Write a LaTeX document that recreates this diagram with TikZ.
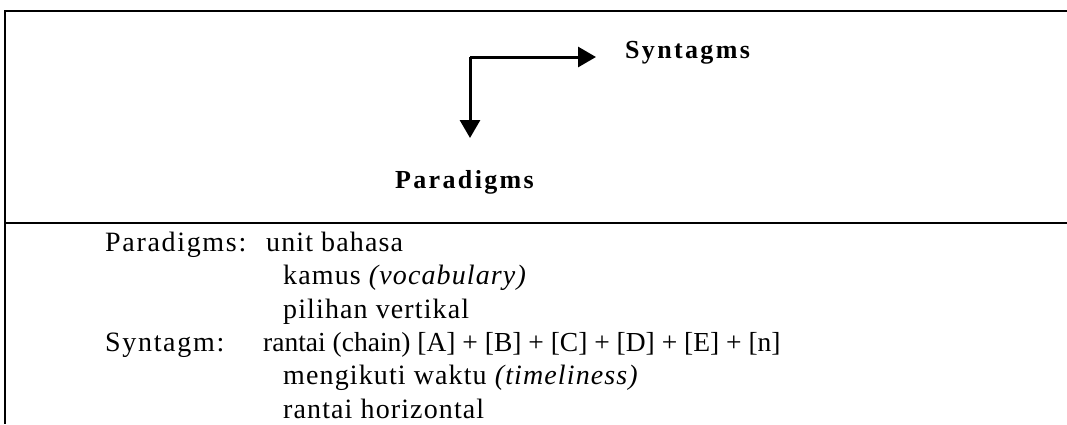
\documentclass[tikz,border=0pt]{standalone}
\usepackage{fontspec}
\setmainfont{Liberation Serif}
\newfontfamily\spchead[LetterSpace=9]{Liberation Serif}
\newfontfamily\spclab[LetterSpace=6]{Liberation Serif}
\newfontfamily\spcbody[LetterSpace=4]{Liberation Serif}
\newfontfamily\spcchain[LetterSpace=0]{Liberation Serif}
\usetikzlibrary{arrows.meta}
\tikzset{
  frame/.style={line width=2.5pt},
  arr/.style={line width=3pt,-{Triangle[length=18pt,width=20pt]}},
  head/.style={font=\spchead\fontsize{26}{30}\selectfont\bfseries,inner sep=0pt,anchor=base west},
  lab/.style={font=\spclab\fontsize{28}{32}\selectfont,inner sep=0pt,anchor=base west},
  txt/.style={font=\spcbody\fontsize{28}{32}\selectfont,inner sep=0pt,anchor=base west},
  chain/.style={font=\spcchain\fontsize{27.5}{32}\selectfont,inner sep=0pt,anchor=base west}
}
\begin{document}
\begin{tikzpicture}[x=1pt,y=-1pt]
\useasboundingbox (0,0) rectangle (1067,424);
\fill[white] (0,0) rectangle (1067,424);
\draw[frame] (1067,11) -- (5,11) -- (5,424);
\draw[frame] (5,223) -- (1067,223);
\coordinate (corner) at (470,57);
\coordinate (htip) at (596,57);
\coordinate (vtip) at (470,138);
\draw[arr] (corner) -- (htip);
\draw[arr] (corner) -- (vtip);
\node[head] (syn) at (625,58.5) {Syntagms};
\node[head] (par) at (395,188) {Paradigms};
\node[lab] (l1a) at (105,251) {Paradigms:};
\node[txt] (l1b) at (266,251) {unit bahasa};
\node[txt] (l2) at (283,284.5) {kamus \textit{(vocabulary)}};
\node[txt] (l3) at (283,318) {pilihan vertikal};
\node[lab] (l4a) at (105,351) {Syntagm:};
\node[chain] (l4b) at (263,351) {rantai (chain) [A] + [B] + [C] + [D] + [E] + [n]};
\node[txt] (l5) at (283,384.5) {mengikuti waktu \textit{(timeliness)}};
\node[txt] (l6) at (283,418) {rantai horizontal};
\end{tikzpicture}
\end{document}
